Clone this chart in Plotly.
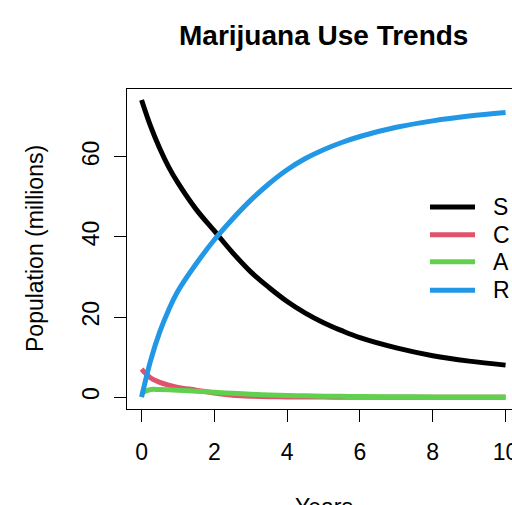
import plotly.graph_objects as go

# Time points (years) and population compartments (millions)
years = [0, 0.25, 0.5, 0.75, 1, 1.5, 2, 2.5, 3, 3.5, 4, 4.5, 5, 5.5, 6, 7, 8, 9, 10]
susceptible = [74.2, 67.6, 62.1, 57.4, 53.5, 46.9, 41.5, 36.1, 31.3, 27.4, 23.9,
               21.0, 18.6, 16.6, 14.85, 12.3, 10.35, 9.0, 8.0]
casual = [7.0, 4.8, 3.7, 3.0, 2.45, 1.75, 1.0, 0.5, 0.25, 0.12, 0.05,
          0.02, 0.01, 0, 0, 0, 0, 0, 0]
addicted = [1.0, 1.9, 1.9, 1.85, 1.75, 1.5, 1.2, 0.95, 0.75, 0.55, 0.42,
            0.33, 0.25, 0.2, 0.15, 0.1, 0.05, 0.03, 0.02]
recovered = [0, 9.2, 16.3, 21.9, 26.5, 33.3, 39.3, 44.5, 49.2, 53.3, 56.8,
             59.6, 61.8, 63.6, 65.1, 67.4, 69.0, 70.2, 71.1]

series_names = ["S", "C", "A", "R"]
series_values = [susceptible, casual, addicted, recovered]
series_colors = ["#000000", "#DF536B", "#61D04F", "#2297E6"]

x_ticks = [0, 2, 4, 6, 8, 10]
y_ticks = [0, 20, 40, 60]

FONT = "Liberation Sans, Arial, sans-serif"

W, H = 512, 505
L, R_M, T, B = 127, 0, 89, 96
plot_w = W - L - R_M
plot_h = H - T - B

fig = go.Figure()
for name, vals, col in zip(series_names, series_values, series_colors):
    fig.add_trace(go.Scatter(
        x=years, y=vals, name=name, mode="lines",
        line=dict(color=col, width=5, shape="spline", smoothing=1.0),
        showlegend=False,
    ))

# px -> paper helpers for the layout decorations
def px_x(px):
    return (px - L) / plot_w

def px_y(py):
    return (T + plot_h - py) / plot_h

# legend without a box: line samples + labels
legend_rows = [207, 234.8, 261.8, 290.3]
shapes = []
annotations = []
for name, col, py in zip(series_names, series_colors, legend_rows):
    shapes.append(dict(type="line", xref="paper", yref="paper",
                       x0=px_x(430), x1=px_x(475), y0=px_y(py), y1=px_y(py),
                       line=dict(color=col, width=5)))
    annotations.append(dict(text=name, xref="paper", yref="paper",
                            x=px_x(491), y=px_y(py), xanchor="left", yanchor="middle",
                            showarrow=False, font=dict(family=FONT, size=23, color="#000")))

annotations.append(dict(text="<b>Marijuana Use Trends</b>", xref="paper", yref="paper",
                        x=px_x(323), y=px_y(35), xanchor="center", yanchor="middle",
                        showarrow=False, font=dict(family=FONT, size=28, color="#000")))
annotations.append(dict(text="Population (millions)", xref="paper", yref="paper",
                        x=px_x(35), y=px_y(249), xanchor="center", yanchor="middle",
                        textangle=-90, showarrow=False,
                        font=dict(family=FONT, size=23, color="#000")))
annotations.append(dict(text="Years", xref="paper", yref="paper",
                        x=px_x(324), y=px_y(507), xanchor="center", yanchor="middle",
                        showarrow=False, font=dict(family=FONT, size=23, color="#000")))

x_scale = 36.4
fig.update_layout(
    width=W, height=H,
    margin=dict(l=L, r=R_M, t=T, b=B, pad=0),
    paper_bgcolor="white", plot_bgcolor="white",
    font=dict(family=FONT, size=23, color="#000"),
    shapes=shapes, annotations=annotations,
    xaxis=dict(range=[-0.4, -0.4 + plot_w / x_scale], tickvals=x_ticks,
               ticks="outside", ticklen=12, tickwidth=1, tickcolor="#000",
               showline=True, linecolor="#000", linewidth=1, mirror=True,
               showgrid=False, zeroline=False, automargin=False,
               ticklabeloverflow="allow", ticklabelstandoff=10,
               tickfont=dict(family=FONT, size=23, color="#000")),
    yaxis=dict(range=[-2.96, 76.96], tickvals=y_ticks, tickangle=-90,
               ticks="outside", ticklen=12, tickwidth=1, tickcolor="#000",
               showline=True, linecolor="#000", linewidth=1,
               showgrid=False, zeroline=False, automargin=False,
               ticklabelstandoff=6,
               tickfont=dict(family=FONT, size=23, color="#000")),
)

fig.write_html("out.html")
